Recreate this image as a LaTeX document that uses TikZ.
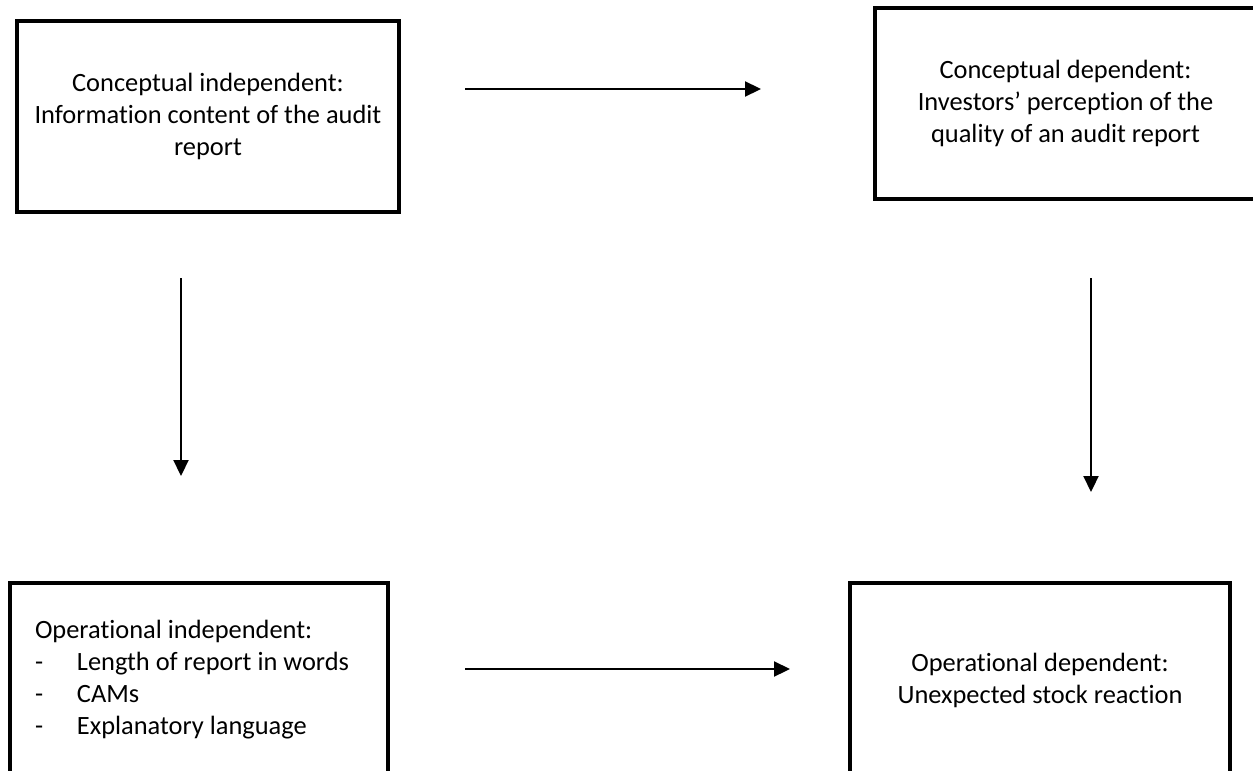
\documentclass[tikz,border=0pt]{standalone}
\usepackage{fontspec}
\setmainfont{Carlito}[RawFeature={-liga;-clig;-calt;-rlig;-dlig}]
\usetikzlibrary{arrows.meta}
\begin{document}
\begin{tikzpicture}[x=1pt,y=-1pt,
  box/.style={draw, line width=4pt, rectangle, inner sep=0pt,
    font=\fontsize{26.4}{32}\selectfont, align=center},
  arr/.style={line width=2.2pt, -{Triangle[length=16pt,width=15pt]}}]
\useasboundingbox (0,0) rectangle (1253,771);
\node[box, minimum width=382pt, minimum height=191pt] (ci) at (208,116.5)
  {Conceptual independent:\\Information content of the audit\\report};
\node[box, minimum width=381pt, minimum height=191pt] (cd) at (1065.5,103.5)
  {Conceptual dependent:\\Investors’ perception of the\\quality of an audit report};
\node[box, minimum width=378pt, minimum height=194pt, text width=328pt,
  align=flush left, inner xsep=25pt] (oi) at (199,680)
  {Operational independent:\\
   \makebox[42pt][l]{-}Length of report in words\\
   \makebox[42pt][l]{-}CAMs\\
   \makebox[42pt][l]{-}Explanatory language};
\node[box, minimum width=380pt, minimum height=194pt] (od) at (1040,680)
  {Operational dependent:\\Unexpected stock reaction};
\coordinate (t1) at (465,89);
\coordinate (t2) at (761,89);
\coordinate (l1) at (181,278);
\coordinate (l2) at (181,476);
\coordinate (r1) at (1091,278);
\coordinate (r2) at (1091,492);
\coordinate (b1) at (465,669);
\coordinate (b2) at (790,669);
\draw[arr] (t1) -- (t2);
\draw[arr] (l1) -- (l2);
\draw[arr] (r1) -- (r2);
\draw[arr] (b1) -- (b2);
\end{tikzpicture}
\end{document}
